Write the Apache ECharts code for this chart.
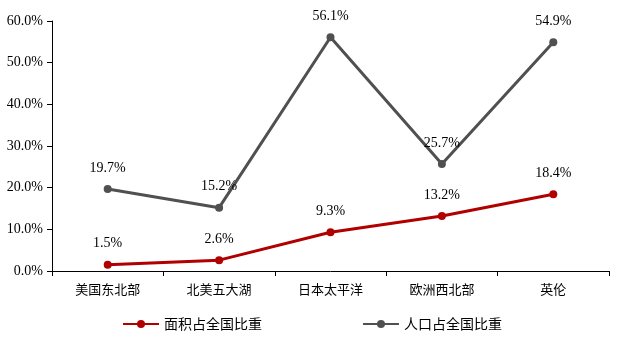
<!DOCTYPE html>
<html><head><meta charset="utf-8">
<script src="https://cdn.jsdelivr.net/npm/echarts@6/dist/echarts.min.js"></script>
<style>html,body{margin:0;padding:0;background:#fff}#c{width:624px;height:344px}</style>
</head><body><div id="c"></div>
<script>
const categories = ['美国东北部', '北美五大湖', '日本太平洋', '欧洲西北部', '英伦'];
const areaShare = [1.5, 2.6, 9.3, 13.2, 18.4];
const popShare = [19.7, 15.2, 56.1, 25.7, 54.9];
const seriesNames = ['面积占全国比重', '人口占全国比重'];

const chart = echarts.init(document.getElementById('c'));
const serif = '"Liberation Serif","Times New Roman",serif';
const cjk = '"Noto Sans CJK SC",sans-serif';
function mk(name, data, color) {
  return {
    name, type: 'line', data,
    symbol: 'circle', symbolSize: 8,
    lineStyle: { width: 3, color },
    itemStyle: { color },
    label: { show: true, position: 'top', distance: 10, color: '#000', fontFamily: serif, fontSize: 14,
      formatter: p => p.value.toFixed(1) + '%' },
    animation: false
  };
}
chart.setOption({
  animation: false,
  grid: { left: 52, right: 15, top: 21, bottom: 73 },
  xAxis: {
    type: 'category', data: categories, boundaryGap: true,
    axisLine: { lineStyle: { color: '#000', width: 1 } },
    axisTick: { show: true, alignWithLabel: false, length: 5, lineStyle: { color: '#000' } },
    axisLabel: { color: '#000', fontFamily: cjk, fontSize: 13, margin: 12 }
  },
  yAxis: {
    type: 'value', min: 0, max: 60, interval: 10,
    axisLine: { show: true, lineStyle: { color: '#000', width: 1 } },
    axisTick: { show: true, length: 5, lineStyle: { color: '#000' } },
    splitLine: { show: false },
    axisLabel: { color: '#000', fontFamily: serif, fontSize: 14, margin: 9,
      formatter: v => v.toFixed(1) + '%' }
  },
  legend: {
    bottom: 8, left: 'center', itemGap: 100, itemWidth: 36, itemHeight: 10,
    textStyle: { color: '#000', fontFamily: cjk, fontSize: 14 },
    data: seriesNames
  },
  series: [mk(seriesNames[0], areaShare, '#B00000'), mk(seriesNames[1], popShare, '#505050')]
});
</script></body></html>
